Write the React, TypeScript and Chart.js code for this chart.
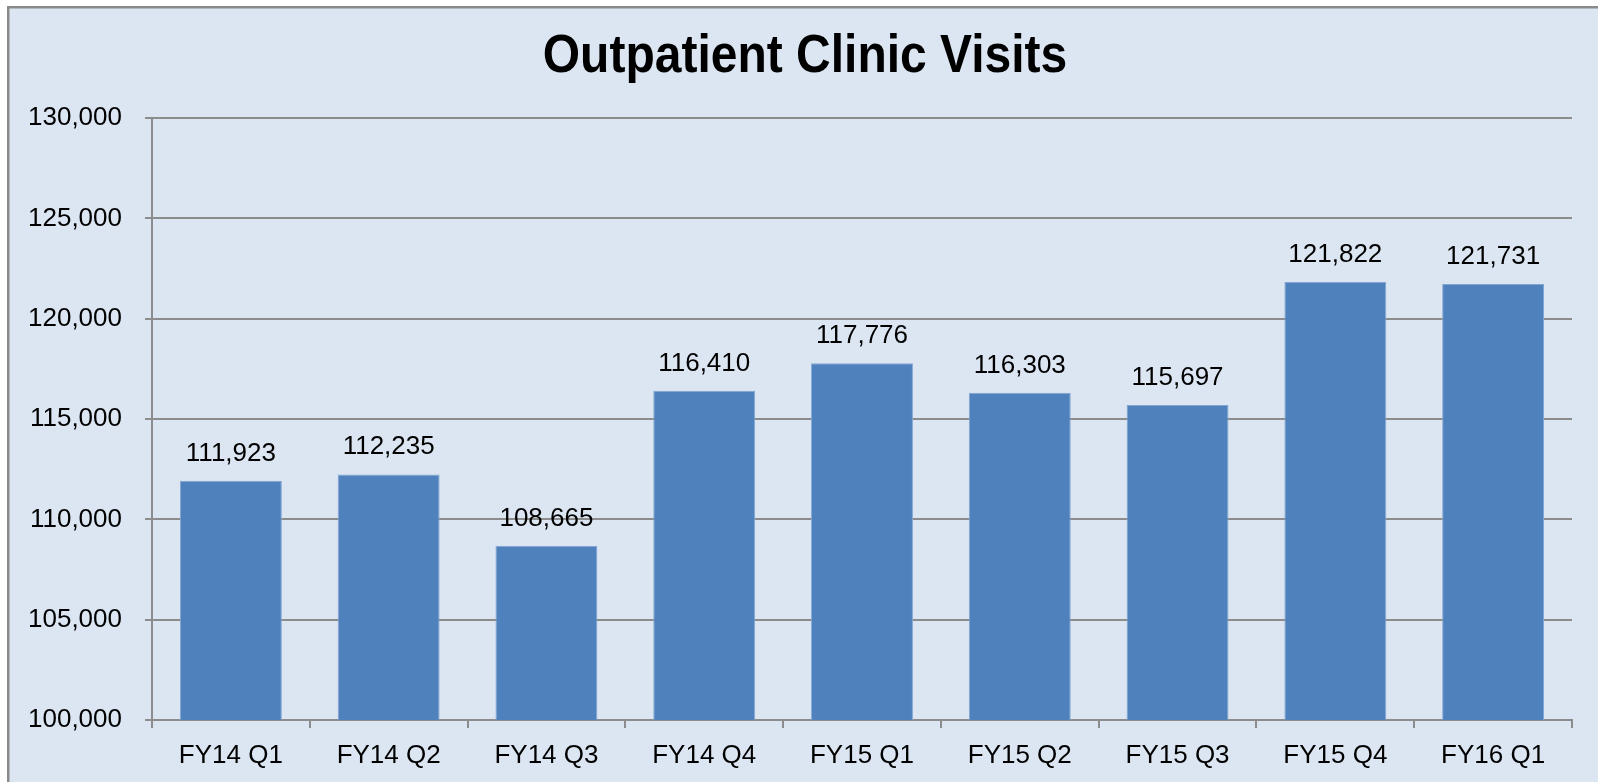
import React, { useEffect, useRef } from "react";
import { Chart, registerables } from "chart.js";

Chart.register(...registerables);

const categories = ["FY14 Q1", "FY14 Q2", "FY14 Q3", "FY14 Q4", "FY15 Q1", "FY15 Q2", "FY15 Q3", "FY15 Q4", "FY16 Q1"];
const visits = [111923, 112235, 108665, 116410, 117776, 116303, 115697, 121822, 121731];
const chartTitle = "Outpatient Clinic Visits";
const yMin = 100000;
const yMax = 130000;
const yStep = 5000;

const FONT = "'Liberation Sans', Arial, sans-serif";
const fmt = (v: number) => v.toLocaleString("en-US");

const framePlugin = {
  id: "frame",
  beforeDraw(chart: any) {
    const ctx = chart.ctx;
    ctx.save();
    ctx.fillStyle = "#ffffff";
    ctx.fillRect(0, 0, chart.width, chart.height);
    ctx.fillStyle = "#DCE6F2";
    ctx.fillRect(8, 7, chart.width, chart.height);
    ctx.strokeStyle = "#8A8A8A";
    ctx.lineWidth = 2.5;
    ctx.strokeRect(8.25, 7.25, chart.width + 20, chart.height + 20);
    ctx.restore();
  },
  afterDraw(chart: any) {
    const ctx = chart.ctx;
    ctx.save();
    ctx.translate(805, 57);
    ctx.scale(1, 1.1);
    ctx.font = `bold 48px ${FONT}`;
    ctx.fillStyle = "#000000";
    ctx.textAlign = "center";
    ctx.textBaseline = "middle";
    ctx.fillText(chartTitle, 0, 0);
    ctx.restore();
  },
};

const labelPlugin = {
  id: "valueLabels",
  afterDatasetsDraw(chart: any) {
    const ctx = chart.ctx;
    const meta = chart.getDatasetMeta(0);
    ctx.save();
    ctx.font = `26px ${FONT}`;
    ctx.fillStyle = "#000000";
    ctx.textAlign = "center";
    ctx.textBaseline = "alphabetic";
    meta.data.forEach((bar: any, i: number) => {
      ctx.fillText(fmt(visits[i]), bar.x, bar.y - 20);
    });
    ctx.restore();
  },
};

export default function App() {
  const ref = useRef<HTMLCanvasElement | null>(null);
  useEffect(() => {
    if (!ref.current) return;
    const chart = new Chart(ref.current, {
      type: "bar",
      data: {
        labels: categories,
        datasets: [
          {
            data: visits,
            backgroundColor: "#4F81BD",
            borderColor: "#82A6D3",
            borderWidth: 1,
            categoryPercentage: 1,
            barPercentage: 0.646,
          },
        ],
      },
      options: {
        responsive: false,
        animation: false,
        layout: { padding: { top: 118, right: 26, bottom: 0, left: 0 } },
        plugins: {
          legend: { display: false },
          tooltip: { enabled: false },
          title: { display: false },
        },
        scales: {
          x: {
            grid: {
              display: true,
              drawOnChartArea: false,
              offset: true,
              tickLength: 8,
              color: "#8C8C8C",
              lineWidth: 2,
            },
            border: { color: "#8C8C8C", width: 2 },
            ticks: {
              color: "#000000",
              font: { family: FONT, size: 26 },
              padding: 12,
              maxRotation: 0,
            },
            afterFit(scale: any) {
              scale.height = 62;
            },
          },
          y: {
            min: yMin,
            max: yMax,
            grid: {
              color: "#8C8C8C",
              lineWidth: 2,
              tickLength: 7,
            },
            border: { color: "#8C8C8C", width: 2 },
            ticks: {
              stepSize: yStep,
              color: "#000000",
              font: { family: FONT, size: 26 },
              padding: 23,
              callback: (v: any) => fmt(Number(v)),
            },
            afterFit(scale: any) {
              scale.width = 152;
            },
          },
        },
      },
      plugins: [framePlugin, labelPlugin],
    });
    return () => chart.destroy();
  }, []);
  return (
    <div style={{ position: "absolute", left: 0, top: 0, width: 1598, height: 782 }}>
      <canvas ref={ref} width={1598} height={782} style={{ display: "block" }} />
    </div>
  );
}
